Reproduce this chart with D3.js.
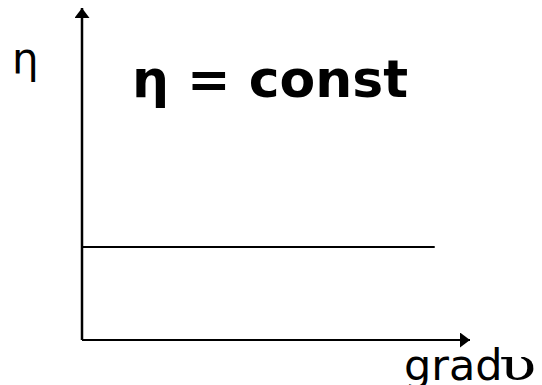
<!DOCTYPE html>
<html><head><meta charset="utf-8">
<script src="https://cdn.jsdelivr.net/npm/d3@7"></script>
<style>body{margin:0;background:#fff}svg{display:block}</style>
</head><body>
<script>
const gradValues = [0, 1];
const etaValues = [0.28, 0.28];
const xLabelMain = "grad";
const xLabelSym = "υ";
const yLabel = "η";
const title = "η = const";

const W = 542, H = 385;
const svg = d3.select("body").append("svg").attr("width", W).attr("height", H);
const x = d3.scaleLinear().domain([0, 1.1]).range([82, 470]);
const y = d3.scaleLinear().domain([0, 1]).range([340, 8]);

svg.append("defs").append("marker").attr("id","arr").attr("viewBox","0 0 10 10")
  .attr("refX",10).attr("refY",5).attr("markerWidth",10).attr("markerHeight",15)
  .attr("markerUnits","userSpaceOnUse").attr("orient","auto").attr("preserveAspectRatio","none")
  .append("path").attr("d","M0,0 L10,5 L0,10 Z").attr("fill","#000");

// axes
svg.append("line").attr("x1", x(0)).attr("y1", y(0)).attr("x2", x(0)).attr("y2", y(1))
  .attr("stroke","#000").attr("stroke-width",2.5).attr("marker-end","url(#arr)");
svg.append("line").attr("x1", x(0)).attr("y1", y(0)).attr("x2", x(1.1)).attr("y2", y(0))
  .attr("stroke","#000").attr("stroke-width",2).attr("marker-end","url(#arr)");

// data line
const line = d3.line().x((d,i)=>x(gradValues[i])).y(d=>y(d));
svg.append("path").datum(etaValues).attr("d", line).attr("fill","none")
  .attr("stroke","#000").attr("stroke-width",2);

svg.append("text").attr("x",12).attr("y",73).attr("font-family","DejaVu Sans")
  .attr("font-size",42).text(yLabel);
svg.append("text").attr("x",132).attr("y",97).attr("font-family","DejaVu Sans")
  .attr("font-weight","bold").attr("font-size",52).text(title);
svg.append("text").attr("x",404).attr("y",380).attr("font-family","DejaVu Sans")
  .attr("font-size",43).text(xLabelMain);
svg.append("text").attr("transform","translate(499,380) scale(1.4,1)")
  .attr("font-family","DejaVu Serif").attr("font-size",44).text(xLabelSym);
</script>
</body></html>
